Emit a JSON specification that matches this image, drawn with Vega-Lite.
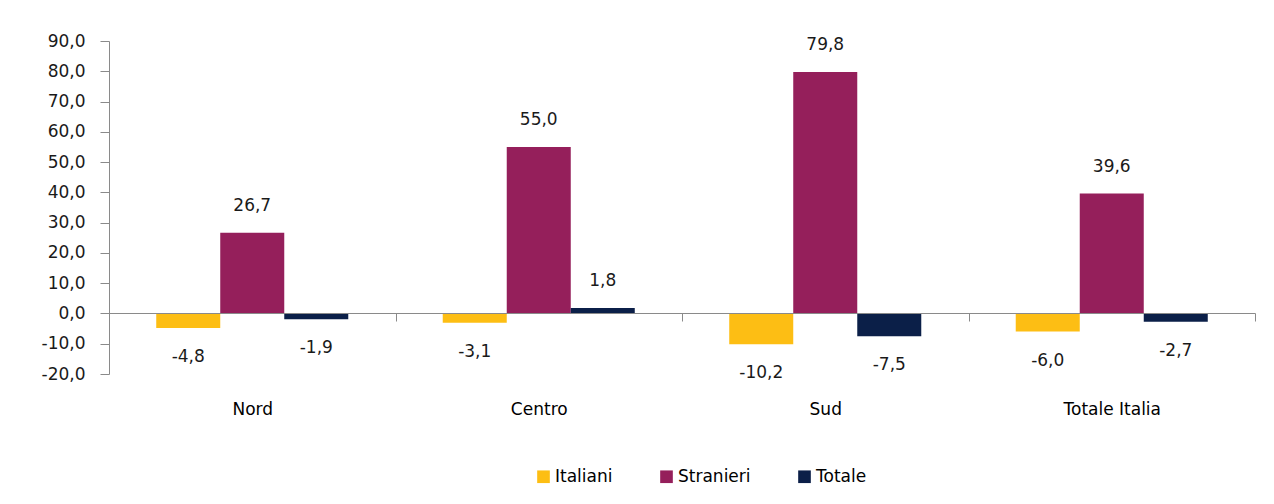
{
  "$schema": "https://vega.github.io/schema/vega-lite/v6.json",
  "width": 1146,
  "height": 333,
  "autosize": {"type": "none"},
  "padding": {"left": 109, "top": 41, "right": 19, "bottom": 130},
  "background": "white",
  "config": {
    "view": {"stroke": null},
    "font": "DejaVu Sans",
    "locale": {"number": {"decimal": ",", "thousands": ".", "grouping": [3], "currency": ["", " €"], "minus": "-"}},
    "axis": {"grid": false, "domainColor": "#8a8a8a", "tickColor": "#8a8a8a", "labelColor": "#1a1a1a", "labelFont": "DejaVu Sans", "labelFontSize": 17, "title": null}
  },
  "data": {
    "values": [
      {"region": "Nord", "group": "Italiani", "value": -4.8},
      {"region": "Nord", "group": "Stranieri", "value": 26.7},
      {"region": "Nord", "group": "Totale", "value": -1.9},
      {"region": "Centro", "group": "Italiani", "value": -3.1},
      {"region": "Centro", "group": "Stranieri", "value": 55.0},
      {"region": "Centro", "group": "Totale", "value": 1.8},
      {"region": "Sud", "group": "Italiani", "value": -10.2},
      {"region": "Sud", "group": "Stranieri", "value": 79.8},
      {"region": "Sud", "group": "Totale", "value": -7.5},
      {"region": "Totale Italia", "group": "Italiani", "value": -6.0},
      {"region": "Totale Italia", "group": "Stranieri", "value": 39.6},
      {"region": "Totale Italia", "group": "Totale", "value": -2.7}
    ]
  },
  "encoding": {
    "x": {
      "field": "region", "type": "nominal",
      "sort": ["Nord", "Centro", "Sud", "Totale Italia"],
      "scale": {"paddingInner": 0, "paddingOuter": 0},
      "axis": {"orient": "bottom", "offset": -61, "labelAngle": 0, "tickBand": "extent", "tickSize": 8, "labelPadding": 80, "labelFontSize": 17, "labelColor": "#000000", "zindex": 1}
    },
    "xOffset": {
      "field": "group", "type": "nominal",
      "sort": ["Italiani", "Stranieri", "Totale"],
      "scale": {"paddingInner": 0, "paddingOuter": 0.738}
    },
    "y": {
      "field": "value", "type": "quantitative",
      "scale": {"domain": [-20, 90], "nice": false, "zero": false},
      "axis": {"values": [-20, -10, 0, 10, 20, 30, 40, 50, 60, 70, 80, 90], "tickSize": 9, "labelPadding": 15, "format": ".1f"}
    }
  },
  "layer": [
    {
      "mark": {"type": "bar"},
      "encoding": {
        "color": {
          "field": "group", "type": "nominal",
          "scale": {"domain": ["Italiani", "Stranieri", "Totale"], "range": ["#FDBE14", "#951F5B", "#0B1F48"]},
          "legend": {
            "title": null, "orient": "none", "direction": "horizontal",
            "legendX": 426, "legendY": 427,
            "symbolType": "square", "symbolSize": 160, "symbolStrokeWidth": 0,
            "labelFont": "DejaVu Sans", "labelFontSize": 17, "labelColor": "#000000",
            "labelOffset": 3, "columnPadding": 45
          }
        }
      }
    },
    {
      "transform": [{"filter": "datum.value >= 0"}],
      "mark": {"type": "text", "baseline": "middle", "dy": -27, "fontSize": 17, "color": "#1a1a1a"},
      "encoding": {"text": {"field": "value", "type": "quantitative", "format": ".1f"}}
    },
    {
      "transform": [{"filter": "datum.value < 0"}],
      "mark": {"type": "text", "baseline": "middle", "dy": 29, "fontSize": 17, "color": "#1a1a1a"},
      "encoding": {"text": {"field": "value", "type": "quantitative", "format": ".1f"}}
    }
  ]
}
